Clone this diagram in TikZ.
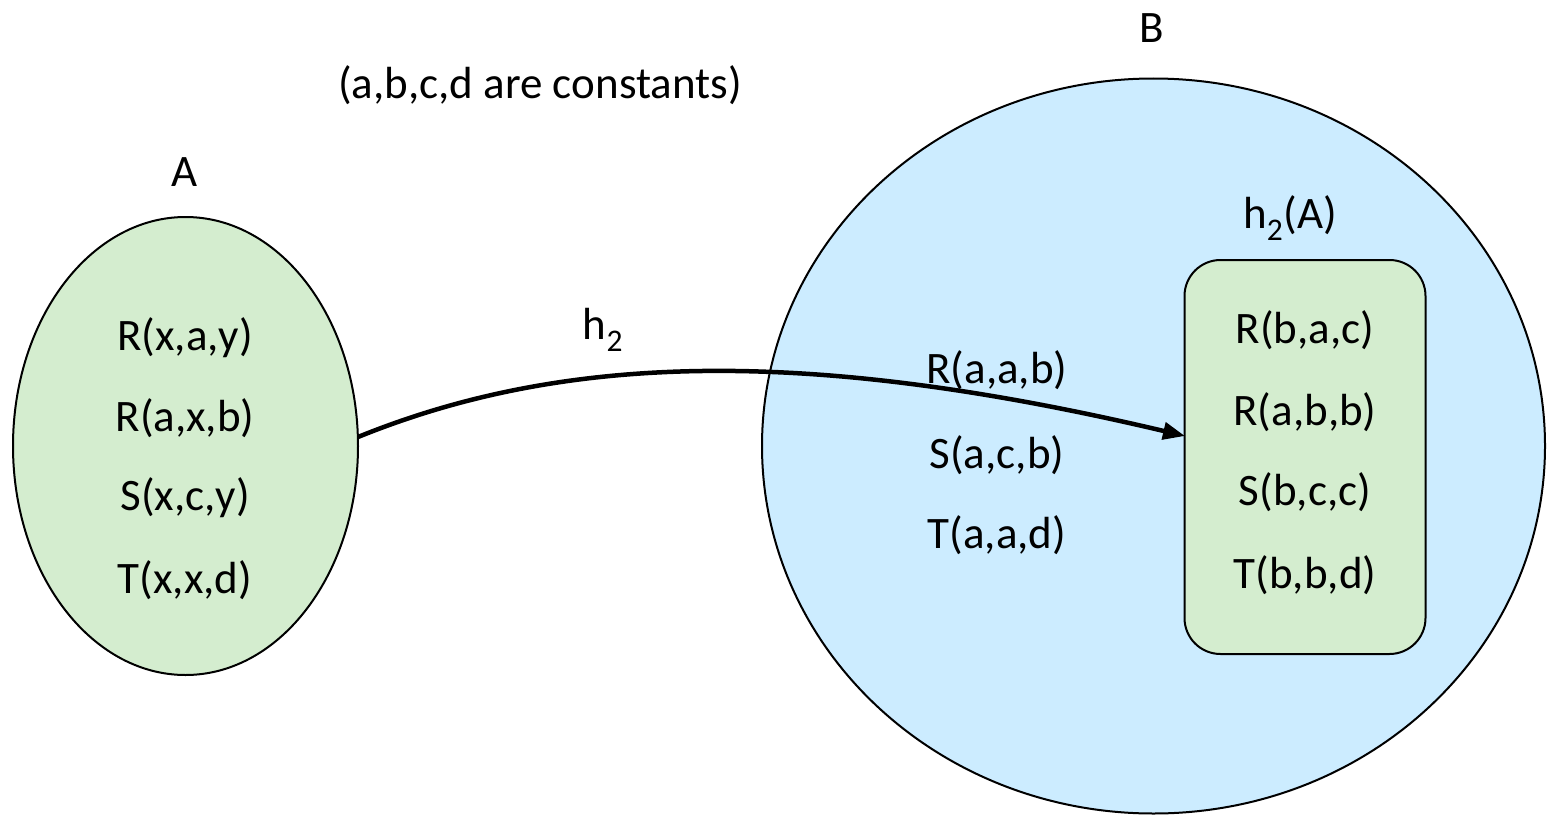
\documentclass[tikz,border=0pt]{standalone}
\usepackage{fontspec}
\setmainfont{Carlito}
\usetikzlibrary{arrows.meta}
\definecolor{greenfill}{HTML}{D4EDCF}
\definecolor{bluefill}{HTML}{CCECFF}
\tikzset{
  lbl/.style={inner sep=0pt, font=\fontsize{45}{54}\selectfont},
  setshape/.style={draw=black, line width=2pt},
  maparrow/.style={line width=4.5pt, -{Triangle[length=22pt,width=17pt]}}
}
\begin{document}
\begin{tikzpicture}[x=1pt,y=-1pt]
\useasboundingbox (0,0) rectangle (1547,816);
% set B
\draw[setshape, fill=bluefill] (1153.5,446) ellipse [x radius=391.5, y radius=367.5];
% set A
\draw[setshape, fill=greenfill] (185.5,446) ellipse [x radius=172.5, y radius=229];
% h2(A) box
\node[setshape, fill=greenfill, rounded corners=36pt, minimum width=241pt, minimum height=394pt, inner sep=0pt] (hA) at (1305,457) {};

\node[lbl] (labA) at (185,172) {A};
\node[lbl] (labB) at (1152,28) {B};
\node[lbl] (note) at (540,85) {(a,b,c,d are constants)};
\node[lbl] (labh) at (603,330) {h\textsubscript{2}};
\node[lbl] (labhA) at (1290,218) {h\textsubscript{2}(A)};

\node[lbl] (a1) at (185,338) {R(x,a,y)};
\node[lbl] (a2) at (185,418) {R(a,x,b)};
\node[lbl] (a3) at (185,498) {S(x,c,y)};
\node[lbl] (a4) at (185,580) {T(x,x,d)};

\node[lbl] (b1) at (997,370) {R(a,a,b)};
\node[lbl] (b2) at (997,455) {S(a,c,b)};
\node[lbl] (b3) at (997,535) {T(a,a,d)};

\node[lbl] (c1) at (1305,330) {R(b,a,c)};
\node[lbl] (c2) at (1305,412) {R(a,b,b)};
\node[lbl] (c3) at (1305,492) {S(b,c,c)};
\node[lbl] (c4) at (1305,575) {T(b,b,d)};

\coordinate (start) at (358,437);
\coordinate (end) at (1185,436);
\draw[maparrow] (start) .. controls (560,355) and (800,345) .. (end);
\end{tikzpicture}
\end{document}
